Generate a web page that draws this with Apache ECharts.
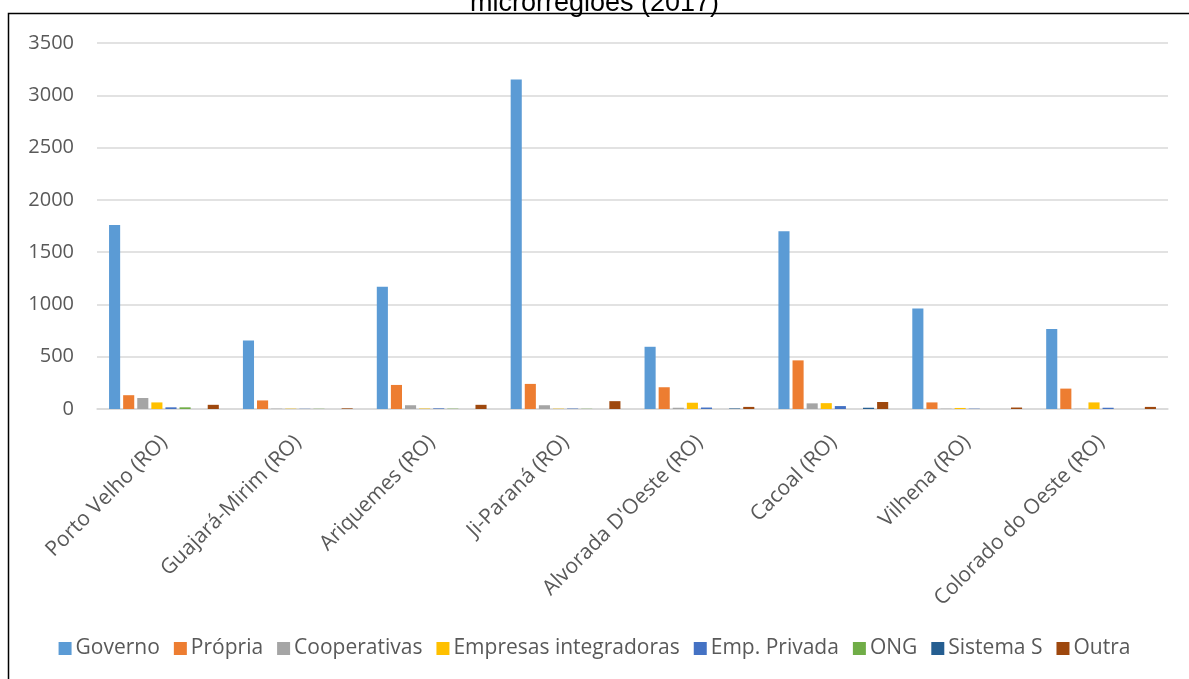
<!DOCTYPE html>
<html>
<head>
<meta charset="utf-8">
<script src="https://cdn.jsdelivr.net/npm/echarts@6/dist/echarts.min.js"></script>
<style>
  html, body { margin: 0; padding: 0; background: #fff; }
  #chart { width: 1189px; height: 679px; }
</style>
</head>
<body>
<div id="chart"></div>
<script>
// categorias (microrregiões)
const categories = ['Porto Velho (RO)', 'Guajará-Mirim (RO)', 'Ariquemes (RO)', 'Ji-Paraná (RO)',
  "Alvorada D'Oeste (RO)", 'Cacoal (RO)', 'Vilhena (RO)', 'Colorado do Oeste (RO)'];

const governo = [1760, 655, 1170, 3150, 595, 1700, 960, 765];
const propria = [132, 82, 230, 240, 208, 465, 63, 195];
const cooperativas = [105, 3, 36, 36, 12, 54, 3, 2];
const empresas = [63, 3, 4, 3, 60, 56, 10, 63];
const empPrivada = [16, 2, 6, 4, 14, 28, 3, 12];
const ong = [16, 2, 3, 2, 0, 0, 0, 0];
const sistemaS = [0, 0, 0, 0, 5, 12, 0, 0];
const outra = [40, 6, 40, 75, 20, 67, 14, 20];

const yTicks = [0, 500, 1000, 1500, 2000, 2500, 3000, 3500];

const seriesDefs = [
  { name: 'Governo', data: governo, color: '#5b9bd5' },
  { name: 'Própria', data: propria, color: '#ed7d31' },
  { name: 'Cooperativas', data: cooperativas, color: '#a5a5a5' },
  { name: 'Empresas integradoras', data: empresas, color: '#ffc000' },
  { name: 'Emp. Privada', data: empPrivada, color: '#4472c4' },
  { name: 'ONG', data: ong, color: '#70ad47' },
  { name: 'Sistema S', data: sistemaS, color: '#255e91' },
  { name: 'Outra', data: outra, color: '#9e480e' },
];

const font = "'Open Sans', 'DejaVu Sans', sans-serif";

const series = seriesDefs.map(function (s) {
  return {
    name: s.name,
    type: 'bar',
    data: s.data,
    barGap: '27%',
    barCategoryGap: '18%',
    itemStyle: { color: s.color },
  };
});

const chart = echarts.init(document.getElementById('chart'));
const option = {
  animation: false,
  color: seriesDefs.map(function (s) { return s.color; }),
  title: {
    text: 'microrregiões (2017)',
    left: 'center',
    top: -15,
    textStyle: {
      fontFamily: "Arial, 'Liberation Sans', sans-serif",
      fontWeight: 'normal',
      fontSize: 27,
      color: '#000',
    },
  },
  graphic: [{
    type: 'rect',
    shape: { x: 8.5, y: 13.5, width: 1200, height: 700 },
    style: { fill: 'none', stroke: '#000', lineWidth: 1.5 },
    z: -1,
  }],
  legend: {
    bottom: 15,
    left: 'center',
    itemWidth: 13,
    itemHeight: 13,
    itemGap: 14,
    icon: 'rect',
    textStyle: { fontFamily: font, fontSize: 21, color: '#595959', padding: [0, 0, 0, -1] },
    data: seriesDefs.map(function (s) { return s.name; }),
  },
  grid: {
    left: 97,
    right: 21,
    top: 43,
    bottom: 270,
    containLabel: false,
  },
  xAxis: {
    type: 'category',
    data: categories,
    axisLine: { show: true, lineStyle: { color: '#d9d9d9', width: 1.5 } },
    axisTick: { show: false },
    axisLabel: {
      rotate: 45,
      interval: 0,
      margin: 30,
      fontFamily: font,
      fontSize: 21,
      color: '#595959',
    },
  },
  yAxis: {
    type: 'value',
    min: yTicks[0],
    max: yTicks[yTicks.length - 1],
    interval: 500,
    axisLine: { show: false },
    axisTick: { show: false },
    axisLabel: {
      fontFamily: font,
      fontSize: 20,
      color: '#595959',
      margin: 23,
      formatter: function (v) { return String(v); },
    },
    splitLine: { show: true, lineStyle: { color: '#d9d9d9', width: 1.5 } },
  },
  series,
};
chart.setOption(option);
</script>
</body>
</html>
